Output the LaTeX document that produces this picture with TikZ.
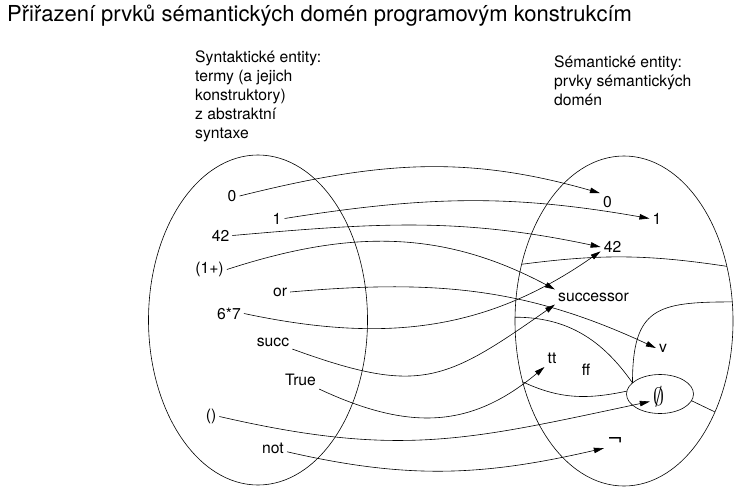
\documentclass[tikz,border=0pt]{standalone}
\usepackage{fix-cm}
\usepackage{fontspec}
\setmainfont{TeX Gyre Heros}
\newfontfamily\symfont{DejaVu Sans}
\usetikzlibrary{arrows.meta,shapes.geometric}
\newcommand{\lblfont}{\fontsize{15.7}{19.2}\selectfont}

\begin{document}
\begin{tikzpicture}[x=1pt, y=-1pt,
  every node/.style={font=\lblfont, inner sep=3pt},
  map/.style={-{Triangle[length=10pt,width=5.5pt]}, line width=0.6pt},
  part/.style={line width=0.6pt},
  dom/.style={draw, ellipse, line width=0.6pt, inner sep=0pt, outer sep=0pt}]
\useasboundingbox (0,0) rectangle (751,503);

\node (title) [anchor=base west, inner sep=0pt, font=\fontsize{22}{26}\selectfont] at (7,22) {Přiřazení prvků sémantických domén programovým konstrukcím};
\node (synhead) [anchor=base west, inner sep=0pt, align=left] at (195,138.8) {Syntaktické entity:\\termy (a jejich\\konstruktory)\\z abstraktní\\syntaxe};
\node (semhead) [anchor=base west, inner sep=0pt, align=left] at (554,105.4) {Sémantické entity:\\prvky sémantických\\domén};

\node (syn) [dom, minimum width=219, minimum height=330] at (258,320) {};
\node (sem) [dom, minimum width=218, minimum height=330] at (624,321) {};
\node (botset) [dom, minimum width=67, minimum height=39] at (660,394) {};

\node (s0) at (232,196) {0};
\node (s1) at (277,218.5) {1};
\node (s42) at (220.5,235.5) {42};
\node (sinc) at (209.5,269.5) {(1+)};
\node (sor) at (280,292) {or};
\node (smul) at (229,313.5) {6*7};
\node (ssucc) at (273,342) {succ};
\node (strue) at (300.5,380) {True};
\node (sunit) at (211,416.5) {()};
\node (snot) at (273,448) {not};

\node (r0) at (607.5,202) {0};
\node (r1) at (657,218.5) {1};
\node (r42) at (612.5,247) {42};
\node (rsucc) at (593.5,297) {successor};
\node (rv) at (663,348) {v};
\node (rtt) at (552,358.5) {tt};
\node (rff) at (586,369.5) {ff};
\node (rbot) at (658.5,396.5) {\scalebox{1.4}[1.6]{$\emptyset$}};
\node (rnot) [font=\fontsize{19}{22}\selectfont] at (615,441) {\symfont ¬};

\draw [part] (sem.151) to[bend left=8] (sem.28);
\draw [part] (botset.158) to[out=90, in=180, looseness=1.5] (sem.10);
\draw [part] (sem.178) to[out=0, in=125] (botset.158);
\draw [part] (sem.211) to[out=-25, in=-168] (botset.175);
\draw [part] (botset.-12) -- (sem.-45);

\draw [map] (s0.east) to[out=14, in=164] (r0.north west);
\draw [map] (s1.east) to[out=9, in=170] (r1.west);
\draw [map] (s42.east) to[out=5, in=168] (r42.west);
\draw [map] (sinc.east) to[out=18, in=152] (rsucc.north west);
\draw [map] (sor.east) to[out=5, in=155] (rv.west);
\draw [map] (smul.east) to[out=-12, in=-145] (r42.200);
\draw [map] (ssucc.-20) to[out=-20, in=-145, looseness=1.3] (rsucc.south west);
\draw [map] (strue.south east) to[out=-25, in=-140, looseness=1.1] (rtt.south west);
\draw [map] (sunit.east) to[out=-13, in=-168, looseness=1.1] (rbot.210);
\draw [map] (snot.-15) to[out=-13, in=-167] (rnot.south west);
\end{tikzpicture}
\end{document}
